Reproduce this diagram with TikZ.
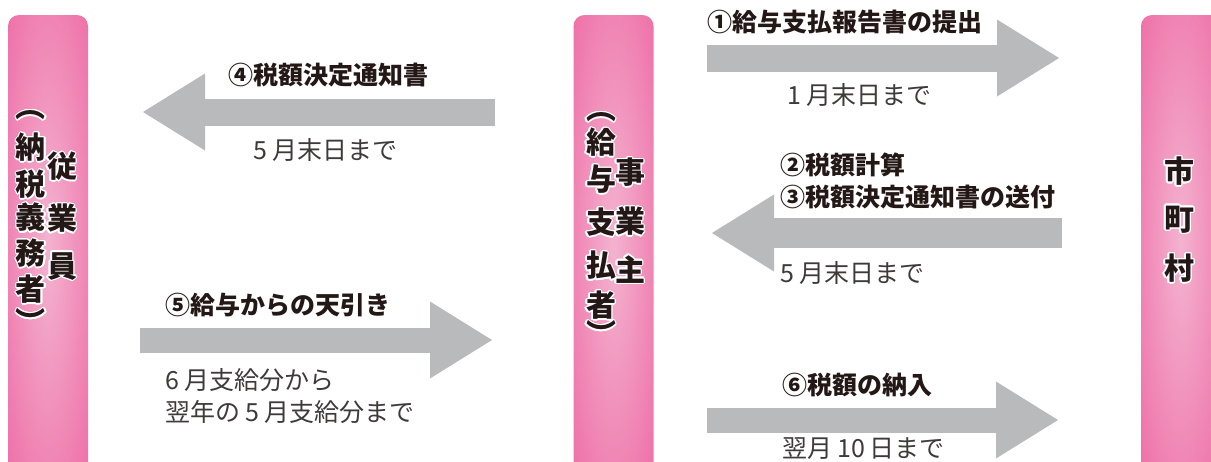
\documentclass[tikz,border=0pt]{standalone}
\usepackage{fontspec}
\setmainfont{Noto Sans CJK JP}
\usepackage{contour}
\contourlength{1.4pt}
\contournumber{16}
\usetikzlibrary{arrows.meta,positioning}
\definecolor{barpink}{HTML}{EE6FA7}
\definecolor{barlight}{HTML}{F4B3D0}
\definecolor{arrowgray}{HTML}{B9BABC}
\definecolor{inkblack}{HTML}{231815}
\definecolor{notegray}{HTML}{3E3A39}
\pgfdeclareradialshading{barglow}{\pgfpoint{0bp}{0bp}}{color(0bp)=(barlight); color(36bp)=(barpink); color(50bp)=(barpink)}

\begin{document}
\begin{tikzpicture}[x=1pt,y=-1pt,
	bar/.style={shade,shading=barglow,rounded corners=11pt,inner sep=0pt,minimum width=80pt,minimum height=458pt},
	barchar/.style={inkblack,inner sep=0pt,font=\bfseries\fontsize{30}{30}\selectfont},
	bigarrow/.style={arrowgray,line width=27pt,-{Triangle[length=62pt,width=77pt,line width=0pt]}},
	steplabel/.style={inkblack,inner sep=0pt,anchor=west,align=left,font=\bfseries\fontsize{25}{32}\selectfont},
	duenote/.style={notegray,inner sep=0pt,anchor=west,align=left,font=\fontsize{25}{32}\selectfont}]
	\useasboundingbox (0,0) rectangle (1211,461);
	\clip (0,0) rectangle (1211,461);
	\node[bar] (employee) at (48,244) {};
	\node[bar] (employer) at (613.5,244) {};
	\node[bar] (city) at (1181,244) {};
	\foreach \ch/\y [count=\i] in {︵/116,納/148,税/185,義/218,務/254,者/290,︶/322}
		\node[barchar] (employee-l\i) at (31,\y) {\contour{white}{\ch}};
	\foreach \ch/\y [count=\i] in {従/167,業/219,員/267}
		\node[barchar] (employee-r\i) at (62,\y) {\contour{white}{\ch}};
	\foreach \ch/\y [count=\i] in {︵/118,給/143,与/180,支/223,払/266,者/306,︶/334}
		\node[barchar] (employer-l\i) at (601,\y) {\contour{white}{\ch}};
	\foreach \ch/\y [count=\i] in {事/173,業/222,主/270}
		\node[barchar] (employer-r\i) at (630,\y) {\contour{white}{\ch}};
	\foreach \ch/\y [count=\i] in {市/172,町/220,村/269}
		\node[barchar] (city-\i) at (1179,\y) {\contour{white}{\ch}};
	\coordinate (report-s) at (707,58);
	\coordinate (report-e) at (1059,58);
	\coordinate (notice-s) at (495,112);
	\coordinate (notice-e) at (143,112);
	\coordinate (calc-s) at (1062,233);
	\coordinate (calc-e) at (712,233);
	\coordinate (deduct-s) at (140,340);
	\coordinate (deduct-e) at (492,340);
	\coordinate (pay-s) at (707,420);
	\coordinate (pay-e) at (1058,420);
	\draw[bigarrow] (report-s) -- (report-e);
	\draw[bigarrow] (notice-s) -- (notice-e);
	\draw[bigarrow,line width=30pt] (calc-s) -- (calc-e);
	\draw[bigarrow,line width=25pt] (deduct-s) -- (deduct-e);
	\draw[bigarrow,line width=25pt] (pay-s) -- (pay-e);
	\node[steplabel] (report-t) at (707,22) {①給与支払報告書の提出};
	\node[duenote] (report-d) at (787,95) {1\hspace{5pt}月末日まで};
	\node[steplabel] (notice-t) at (228,75) {④税額決定通知書};
	\node[duenote] (notice-d) at (253,150) {5\hspace{5pt}月末日まで};
	\node[steplabel] (calc-t) at (780,181) {②税額計算\\③税額決定通知書の送付};
	\node[duenote] (calc-d) at (780,273) {5\hspace{5pt}月末日まで};
	\node[steplabel] (deduct-t) at (165,305) {⑤給与からの天引き};
	\node[duenote] (deduct-d) at (165,396) {6\hspace{5pt}月支給分から\\翌年の\hspace{5pt}5\hspace{5pt}月支給分まで};
	\node[steplabel] (pay-t) at (782,385) {⑥税額の納入};
	\node[duenote] (pay-d) at (782,449) {翌月\hspace{5pt}10\hspace{5pt}日まで};
\end{tikzpicture}
\end{document}
